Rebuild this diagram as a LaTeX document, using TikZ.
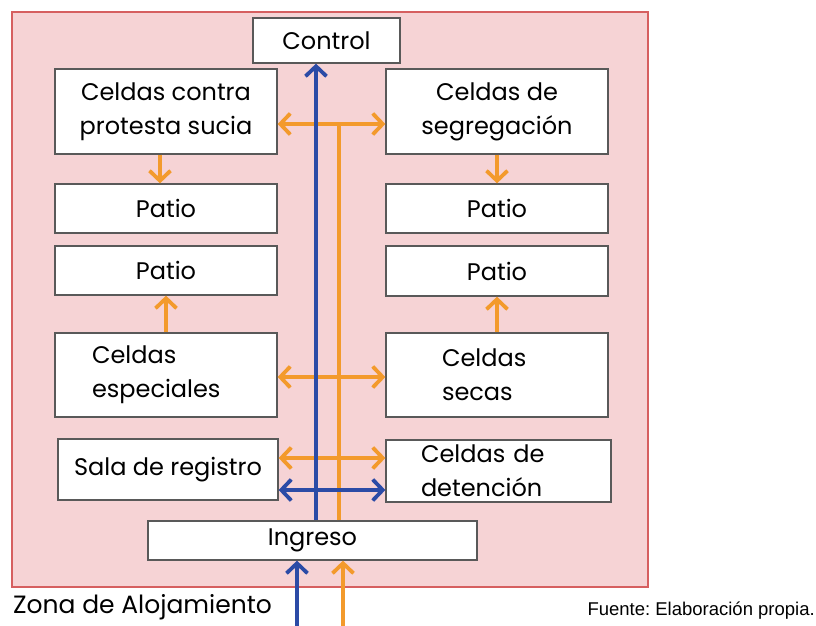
\documentclass[tikz,border=0pt]{standalone}
\usepackage{fontspec}
\setmainfont{Poppins}
\newfontfamily\arialfont{Liberation Sans}
\usetikzlibrary{arrows.meta}
\definecolor{zonepink}{HTML}{F6D3D5}
\definecolor{zonered}{HTML}{D65F60}
\definecolor{flowor}{HTML}{F39A2C}
\definecolor{flowbl}{HTML}{2B4BA6}
\tikzset{
  room/.style={draw=black!65, line width=1.3pt, fill=white, font=\fontsize{24}{34}\selectfont, inner sep=0pt},
  oarrow/.style={draw=flowor, line width=3.8pt, -{Straight Barb[length=10pt,width=21pt]}},
  barrow/.style={draw=flowbl, line width=3.8pt, -{Straight Barb[length=10pt,width=21pt]}},
  both/.style={{Straight Barb[length=10pt,width=21pt]}-{Straight Barb[length=10pt,width=21pt]}},
}
\frenchspacing
\begin{document}
\begin{tikzpicture}[x=1pt,y=-1pt]
\useasboundingbox (0,0) rectangle (816,626);
\draw[zonered, line width=2pt, fill=zonepink] (12,12) rectangle (648,587);
% rooms
\node[room, minimum width=147, minimum height=45] (control) at (326.5,40.5) {Control};
\node[room, minimum width=222, minimum height=85, align=center] (contra) at (166,111.5) {Celdas contra\\protesta sucia};
\node[room, minimum width=222, minimum height=85, align=center] (segreg) at (497,111.5) {Celdas de\\segregación};
\node[room, minimum width=222, minimum height=49] (patioa) at (166,208.5) {Patio};
\node[room, minimum width=222, minimum height=49] (patiob) at (497,208.5) {Patio};
\node[room, minimum width=222, minimum height=49] (patioc) at (166,270.5) {Patio};
\node[room, minimum width=222, minimum height=50] (patiod) at (497,271) {Patio};
\node[room, minimum height=84, align=left, text width=148, inner xsep=37] (espec) at (166,375) {Celdas\\especiales};
\node[room, minimum height=84, align=left, text width=110, inner xsep=56] (secas) at (497,375) {Celdas\\secas};
\node[room, minimum width=220, minimum height=61] (sala) at (168,469.5) {Sala de registro};
\node[room, minimum height=62, align=left, text width=155, inner xsep=35] (deten) at (498.5,471) {Celdas de\\detención};
\node[room, minimum width=329, minimum height=39] (ingreso) at (312.5,540.5) {Ingreso};
% trunk lines
\coordinate (bx) at (316,0);
\coordinate (ox) at (339,124);
\draw[draw=flowor, line width=3.8pt] (ingreso.north -| ox) -- (ox);
\draw[oarrow, both] (contra.east |- ox) -- (segreg.west |- ox);
\draw[oarrow] (contra.south -| 160,0) -- (patioa.north -| 160,0);
\draw[oarrow] (segreg.south) -- (patiob.north);
\draw[oarrow] (espec.north) -- (patioc.south);
\draw[oarrow] (secas.north) -- (patiod.south);
\draw[oarrow, both] (espec.east |- 0,377) -- (secas.west |- 0,377);
\draw[oarrow, both] (sala.east |- 0,458) -- (deten.west |- 0,458);
\draw[barrow] (ingreso.north -| bx) -- (control.south -| bx);
\draw[barrow, both] (sala.east |- 0,490) -- (deten.west |- 0,490);
% entry
\coordinate (bin) at (297,626);
\coordinate (oin) at (343,626);
\draw[barrow] (bin) -- (ingreso.south -| bin);
\draw[oarrow] (oin) -- (ingreso.south -| oin);
\node[anchor=west, inner sep=0pt, font=\fontsize{25}{30}\selectfont] (zona) at (13,607) {Zona de Alojamiento};
\node[anchor=east, inner sep=0pt, font=\arialfont\fontsize{18.5}{22}\selectfont] (fuente) at (815,611) {Fuente: Elaboración propia.};
\end{tikzpicture}
\end{document}
